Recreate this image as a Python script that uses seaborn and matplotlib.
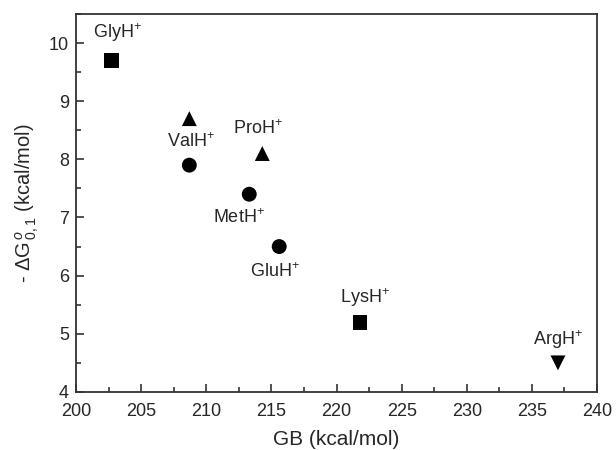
import matplotlib
matplotlib.use("Agg")
import matplotlib.pyplot as plt
import seaborn as sns
import pandas as pd
from matplotlib.ticker import MultipleLocator

# Protonated amino acids: gas-phase basicity vs. binding free energy
ions = ["GlyH$^{+}$", "ValH$^{+}$", "ValH$^{+}$", "ProH$^{+}$", "MetH$^{+}$",
        "GluH$^{+}$", "LysH$^{+}$", "ArgH$^{+}$"]
gb = [202.7, 208.7, 208.7, 214.3, 213.3, 215.6, 221.8, 237.0]
dg = [9.7, 8.7, 7.9, 8.1, 7.4, 6.5, 5.2, 4.5]
kind = ["square", "triangle", "circle", "triangle", "circle", "circle",
        "square", "down"]
# which points carry a text label, and where it sits (data coords)
show_label = [True, False, True, True, True, True, True, True]
label_pos = [(203.2, 10.18), None, (208.8, 8.3), (214.0, 8.52),
             (212.5, 7.0), (215.3, 6.07), (222.2, 5.62), (237.0, 4.9)]

df = pd.DataFrame({"gb": gb, "dg": dg, "kind": kind})

sns.set_style("ticks")
plt.rcParams["font.family"] = ["Liberation Sans", "DejaVu Sans"]
plt.rcParams["mathtext.fontset"] = "custom"
plt.rcParams["mathtext.rm"] = "Liberation Sans"
plt.rcParams["mathtext.it"] = "Liberation Sans:italic"

fig = plt.figure(figsize=(6.16, 4.5), dpi=100)
ax = fig.add_axes([0.1234, 0.129, 0.8458, 0.840])

sns.scatterplot(data=df, x="gb", y="dg", style="kind",
                markers={"square": "s", "triangle": "^", "circle": "o", "down": "v"},
                color="black", s=115, edgecolor="black", linewidth=0,
                legend=False, ax=ax)

for name, show, pos in zip(ions, show_label, label_pos):
    if show:
        ax.text(pos[0], pos[1], name, ha="center", va="center", fontsize=13)

ax.set_xlim(200, 240)
ax.set_ylim(4, 10.5)
ax.xaxis.set_major_locator(MultipleLocator(5))
ax.xaxis.set_minor_locator(MultipleLocator(2.5))
ax.yaxis.set_major_locator(MultipleLocator(1))
ax.yaxis.set_minor_locator(MultipleLocator(0.5))
ax.tick_params(which="major", direction="in", length=6, width=1.2, labelsize=13,
               color="#333333", top=False, right=False, pad=5)
ax.tick_params(axis="x", which="major", pad=8)
ax.tick_params(which="minor", direction="in", length=3.5, width=1.2,
               color="#333333", top=False, right=False)
for sp in ax.spines.values():
    sp.set_linewidth(1.3)
    sp.set_color("#333333")
    sp.set_visible(True)

ax.set_xlabel("GB (kcal/mol)", fontsize=15, labelpad=7)
ax.set_ylabel(r"- $\mathit{\Delta}$G$^{\,o}_{\,\mathit{0,1}}$ (kcal/mol)",
              fontsize=14.5, labelpad=6)

fig.savefig("out.png", dpi=100)
